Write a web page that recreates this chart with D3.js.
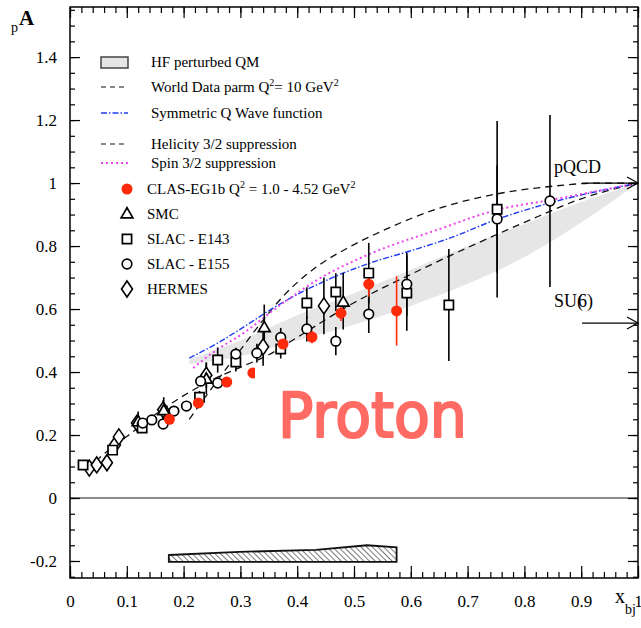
<!DOCTYPE html>
<html>
<head>
<meta charset="utf-8">
<script src="https://cdn.jsdelivr.net/npm/d3@7"></script>
<style>
  body { margin: 0; background: #fff; }
  text { font-family: "Liberation Serif", "Times New Roman", serif; }
</style>
</head>
<body>
<div id="chart"></div>
<script>
// chart size
var chart_width  = 641;
var chart_height = 628;

// data: [x, A1, error]
var clas_eg1b = [
    [0.175, 0.250, 0.010], [0.226, 0.302, 0.010], [0.276, 0.368, 0.010],
    [0.322, 0.397, 0.010], [0.375, 0.489, 0.015], [0.426, 0.511, 0.020],
    [0.477, 0.587, 0.025], [0.526, 0.679, 0.040], [0.575, 0.594, 0.110]
];
var smc = [
    [0.120, 0.245, 0.030], [0.165, 0.280, 0.040], [0.240, 0.380, 0.050],
    [0.342, 0.544, 0.070], [0.481, 0.625, 0.090]
];
var slac_e143 = [
    [0.023, 0.105, 0.010], [0.075, 0.152, 0.010], [0.127, 0.222, 0.015],
    [0.228, 0.320, 0.020], [0.260, 0.438, 0.040], [0.292, 0.432, 0.030],
    [0.371, 0.473, 0.030], [0.417, 0.619, 0.050], [0.468, 0.654, 0.060],
    [0.526, 0.714, 0.096], [0.593, 0.651, 0.120], [0.667, 0.613, 0.178],
    [0.752, 0.917, 0.280]
];
var slac_e155 = [
    [0.128, 0.238, 0.010], [0.144, 0.248, 0.010], [0.164, 0.235, 0.010],
    [0.183, 0.276, 0.010], [0.205, 0.292, 0.010], [0.230, 0.371, 0.015],
    [0.260, 0.365, 0.015], [0.292, 0.457, 0.020], [0.329, 0.460, 0.030],
    [0.371, 0.510, 0.030], [0.417, 0.537, 0.040], [0.468, 0.498, 0.045],
    [0.526, 0.584, 0.060], [0.593, 0.679, 0.100], [0.752, 0.886, 0.170],
    [0.845, 0.943, 0.273]
];
var hermes = [
    [0.034, 0.095, 0.010], [0.047, 0.105, 0.010], [0.065, 0.112, 0.010],
    [0.079, 0.168, 0.010], [0.086, 0.194, 0.015], [0.118, 0.238, 0.020],
    [0.164, 0.280, 0.030], [0.240, 0.390, 0.040], [0.340, 0.480, 0.060],
    [0.447, 0.610, 0.090]
];

// curves: [x, A1]
var world_data_parm = [
    [0.03, 0.09], [0.058, 0.137], [0.10, 0.195], [0.15, 0.265], [0.20, 0.325],
    [0.25, 0.375], [0.30, 0.415], [0.35, 0.455], [0.40, 0.51], [0.50, 0.62],
    [0.60, 0.71], [0.70, 0.795], [0.80, 0.875], [0.90, 0.95], [1.0, 1.0]
];
var helicity_32 = [
    [0.21, 0.25], [0.25, 0.35], [0.30, 0.47], [0.34, 0.565], [0.375, 0.64],
    [0.435, 0.735], [0.49, 0.795], [0.546, 0.845], [0.65, 0.92], [0.75, 0.965],
    [0.85, 0.99], [0.93, 1.0], [1.0, 1.0]
];
var symmetric_q = [
    [0.21, 0.444], [0.258, 0.49], [0.317, 0.556], [0.352, 0.597], [0.45, 0.69],
    [0.528, 0.746], [0.60, 0.785], [0.664, 0.822], [0.752, 0.885], [0.845, 0.937],
    [1.0, 1.0]
];
var spin_32 = [
    [0.217, 0.413], [0.258, 0.47], [0.30, 0.517], [0.375, 0.619], [0.435, 0.692],
    [0.528, 0.775], [0.646, 0.851], [0.752, 0.915], [0.845, 0.946], [1.0, 1.0]
];
var hf_band_x    = [0.21, 0.30, 0.40, 0.50, 0.60, 0.70, 0.80, 0.90, 1.0];
var hf_band_low  = [0.425, 0.45, 0.50, 0.55, 0.61, 0.68, 0.765, 0.875, 1.0];
var hf_band_high = [0.44, 0.50, 0.58, 0.65, 0.725, 0.80, 0.87, 0.94, 1.0];

// systematic band at the bottom
var syst_top = [
    [0.174, -0.181], [0.298, -0.171], [0.433, -0.165], [0.523, -0.150], [0.575, -0.157]
];
var syst_base = -0.203;

var x_ticks = [0, 0.1, 0.2, 0.3, 0.4, 0.5, 0.6, 0.7, 0.8, 0.9, 1];
var y_ticks = [-0.2, 0, 0.2, 0.4, 0.6, 0.8, 1, 1.2, 1.4];

var pqcd_value = 1.0;
var su6_value  = 5 / 9;

var x = d3.scaleLinear().domain([0, 1]).range([70, 638]);
var y = d3.scaleLinear().domain([-0.254, 1.559]).range([578, 7]);

var svg = d3.select('#chart')
    .append('svg')
    .attr('width', chart_width)
    .attr('height', chart_height);

var defs = svg.append('defs');
var hatch = defs.append('pattern')
    .attr('id', 'hatch')
    .attr('patternUnits', 'userSpaceOnUse')
    .attr('width', 4)
    .attr('height', 4)
    .attr('patternTransform', 'rotate(-45)');
hatch.append('line')
    .attr('x1', 0).attr('y1', 0).attr('x2', 0).attr('y2', 4)
    .attr('stroke', '#222').attr('stroke-width', 1.2);

function fmt(d) {
    return String(+d.toFixed(1));
}

// HF band
var band = d3.area()
    .x(function(d, i){ return x(hf_band_x[i]); })
    .y0(function(d, i){ return y(hf_band_low[i]); })
    .y1(function(d){ return y(d); })
    .curve(d3.curveMonotoneX);

svg.append('path')
    .datum(hf_band_high)
    .attr('d', band)
    .attr('fill', '#e6e6e6');

// zero line
svg.append('line')
    .attr('x1', x(0)).attr('x2', x(1))
    .attr('y1', y(0)).attr('y2', y(0))
    .attr('stroke', '#666').attr('stroke-width', 1.5);

// systematic band
var syst_pts = syst_top.map(function(d){ return [x(d[0]), y(d[1])]; });
syst_pts.push([x(syst_top[syst_top.length - 1][0]), y(syst_base)]);
syst_pts.push([x(syst_top[0][0]), y(syst_base)]);
svg.append('path')
    .attr('d', 'M' + syst_pts.join('L') + 'Z')
    .attr('fill', 'url(#hatch)')
    .attr('stroke', '#111')
    .attr('stroke-width', 1.8);

// curves
var line = d3.line()
    .x(function(d){ return x(d[0]); })
    .y(function(d){ return y(d[1]); })
    .curve(d3.curveMonotoneX);

var curves = [
    { data: world_data_parm, color: '#111', dash: '7,5', width: 1.3 },
    { data: helicity_32, color: '#111', dash: '7,5', width: 1.3 },
    { data: symmetric_q, color: '#1f3cf0', dash: '6,2,1.5,2', width: 1.4 },
    { data: spin_32, color: '#ee44ee', dash: '2,3', width: 2 }
];
curves.forEach(function(c){
    svg.append('path')
        .datum(c.data)
        .attr('d', line)
        .attr('fill', 'none')
        .attr('stroke', c.color)
        .attr('stroke-dasharray', c.dash)
        .attr('stroke-width', c.width);
});

// markers
var sym = {
    triangle: d3.symbol().type(d3.symbolTriangle).size(60),
    square: d3.symbol().type(d3.symbolSquare).size(85),
    circle: d3.symbol().type(d3.symbolCircle).size(72)
};

function draw_marker(g, kind, px, py) {
    if (kind === 'clas') {
        g.append('circle').attr('cx', px).attr('cy', py).attr('r', 5.5)
            .attr('fill', '#ff2a0a');
    } else if (kind === 'diamond') {
        g.append('path')
            .attr('d', 'M' + px + ',' + (py - 8) + 'L' + (px + 5.5) + ',' + py +
                'L' + px + ',' + (py + 8) + 'L' + (px - 5.5) + ',' + py + 'Z')
            .attr('fill', '#fff').attr('stroke', '#000').attr('stroke-width', 1.6);
    } else {
        var dy = kind === 'triangle' ? 1.5 : 0;
        g.append('path')
            .attr('d', sym[kind]())
            .attr('transform', 'translate(' + px + ',' + (py + dy) + ')')
            .attr('fill', '#fff').attr('stroke', '#000').attr('stroke-width', 1.7);
    }
}

var sets = [
    { data: hermes, kind: 'diamond', bar: '#000' },
    { data: smc, kind: 'triangle', bar: '#000' },
    { data: slac_e143, kind: 'square', bar: '#000' },
    { data: slac_e155, kind: 'circle', bar: '#000' },
    { data: clas_eg1b, kind: 'clas', bar: '#ff2a0a' }
];

var points = svg.append('g');
sets.forEach(function(s){
    s.data.forEach(function(d){
        points.append('line')
            .attr('x1', x(d[0])).attr('x2', x(d[0]))
            .attr('y1', y(d[1] - d[2])).attr('y2', y(d[1] + d[2]))
            .attr('stroke', s.bar).attr('stroke-width', 1.6);
    });
});
sets.forEach(function(s){
    s.data.forEach(function(d){
        draw_marker(points, s.kind, x(d[0]), y(d[1]));
    });
});

// Proton label (pasted with white background)
svg.append('rect')
    .attr('x', 255).attr('y', 368).attr('width', 215).attr('height', 78)
    .attr('fill', '#fff');
svg.append('text')
    .attr('x', 278).attr('y', 437)
    .attr('textLength', 189)
    .attr('lengthAdjust', 'spacingAndGlyphs')
    .style('font-family', '"Comic Sans MS", "DejaVu Sans", sans-serif')
    .style('font-size', '62px')
    .attr('fill', '#ff6b63')
    .attr('stroke', '#ff6b63')
    .attr('stroke-width', 2.2)
    .attr('stroke-linejoin', 'round')
    .text('Proton');

// pQCD and SU(6) arrows
function arrow(v) {
    var yy = y(v);
    svg.append('line')
        .attr('x1', 582).attr('x2', x(1)).attr('y1', yy).attr('y2', yy)
        .attr('stroke', '#000').attr('stroke-width', 1.2);
    svg.append('path')
        .attr('d', 'M' + (x(1) - 11) + ',' + (yy - 6) + 'L' + x(1) + ',' + yy +
            'L' + (x(1) - 11) + ',' + (yy + 6))
        .attr('fill', 'none').attr('stroke', '#000').attr('stroke-width', 1.2);
}
arrow(pqcd_value);
arrow(su6_value);

svg.append('text').attr('x', 554).attr('y', 173)
    .style('font-size', '18px').text('pQCD');
var su = svg.append('text').attr('x', 554).attr('y', 307)
    .style('font-size', '18px');
su.append('tspan').text('SU');
su.append('tspan').text('(');
su.append('tspan').attr('dx', -5).text('6');
su.append('tspan').text(')');

// axes
var ax = svg.append('g').attr('class', 'axes');

ax.append('g')
    .attr('transform', 'translate(0,578)')
    .call(d3.axisBottom(x).tickValues(d3.range(0, 1.001, 0.02)).tickSize(-6).tickFormat(''));
ax.append('g')
    .attr('transform', 'translate(0,578)')
    .call(d3.axisBottom(x).tickValues(x_ticks).tickSize(-12).tickPadding(17).tickFormat(fmt));
ax.append('g')
    .attr('transform', 'translate(0,7)')
    .call(d3.axisTop(x).tickValues(d3.range(0, 1.001, 0.02)).tickSize(-6).tickFormat(''));
ax.append('g')
    .attr('transform', 'translate(0,7)')
    .call(d3.axisTop(x).tickValues(x_ticks).tickSize(-11).tickFormat(''));

var y_minor = d3.range(-0.25, 1.56, 0.05);
ax.append('g')
    .attr('transform', 'translate(70,0)')
    .call(d3.axisLeft(y).tickValues(y_minor).tickSize(-5).tickFormat(''));
ax.append('g')
    .attr('transform', 'translate(70,0)')
    .call(d3.axisLeft(y).tickValues(y_ticks).tickSize(-10).tickPadding(13).tickFormat(fmt));
ax.append('g')
    .attr('transform', 'translate(638,0)')
    .call(d3.axisRight(y).tickValues(y_minor).tickSize(-5).tickFormat(''));
ax.append('g')
    .attr('transform', 'translate(638,0)')
    .call(d3.axisRight(y).tickValues(y_ticks).tickSize(-10).tickFormat(''));

ax.selectAll('.domain').remove();
ax.selectAll('line').attr('stroke', '#000').attr('stroke-width', 1.2);
ax.selectAll('text')
    .style('font-family', '"Liberation Serif", serif')
    .style('font-size', '17px')
    .attr('fill', '#000');

svg.append('rect')
    .attr('x', 70).attr('y', 7).attr('width', 568).attr('height', 571)
    .attr('fill', 'none').attr('stroke', '#000').attr('stroke-width', 1.5);

// axis titles
svg.append('text').attr('x', 11).attr('y', 32).style('font-size', '14px').text('p');
svg.append('text').attr('x', 19).attr('y', 25)
    .style('font-size', '21px').style('font-weight', 'bold').text('A');
svg.append('text').attr('x', 615).attr('y', 603).style('font-size', '20px').text('x');
svg.append('text').attr('x', 625).attr('y', 614).style('font-size', '14px').text('bj');

// legend
var legend = svg.append('g').style('font-size', '15px');
legend.append('rect')
    .attr('x', 101).attr('y', 57).attr('width', 27).attr('height', 11)
    .attr('fill', '#e6e6e6').attr('stroke', '#444').attr('stroke-width', 1.5);

var legend_lines = [
    { yy: 87, color: '#111', dash: '5,4', width: 1.2 },
    { yy: 113, color: '#1f3cf0', dash: '6,2,1.5,2', width: 1.4 },
    { yy: 144, color: '#111', dash: '5,4', width: 1.2 },
    { yy: 163, color: '#ee44ee', dash: '2,3', width: 2 }
];
legend_lines.forEach(function(l){
    legend.append('line')
        .attr('x1', 101).attr('x2', 128).attr('y1', l.yy).attr('y2', l.yy)
        .attr('stroke', l.color).attr('stroke-dasharray', l.dash)
        .attr('stroke-width', l.width);
});

function leg_text(tx, ty, parts) {
    var t = legend.append('text').attr('x', tx).attr('y', ty);
    var back = 0;
    parts.forEach(function(p){
        if (typeof p === 'string') {
            t.append('tspan').attr('dy', back).text(p);
            back = 0;
        } else {
            t.append('tspan').attr('dy', -6).style('font-size', '10px').text(p.sup);
            back = 6;
        }
    });
}
leg_text(151, 67, ['HF perturbed QM']);
leg_text(151, 92, ['World Data parm Q', { sup: '2' }, '= 10 GeV', { sup: '2' }]);
leg_text(151, 118, ['Symmetric Q Wave function']);
leg_text(151, 149, ['Helicity 3/2 suppression']);
leg_text(151, 168, ['Spin 3/2 suppression']);
leg_text(147, 194, ['CLAS-EG1b Q', { sup: '2' }, ' = 1.0 - 4.52 GeV', { sup: '2' }]);
leg_text(147, 219, ['SMC']);
leg_text(147, 244, ['SLAC - E143']);
leg_text(147, 269, ['SLAC - E155']);
leg_text(147, 294, ['HERMES']);

draw_marker(legend, 'clas', 127, 189);
draw_marker(legend, 'triangle', 127, 213);
draw_marker(legend, 'square', 127, 239);
draw_marker(legend, 'circle', 127, 264);
draw_marker(legend, 'diamond', 127, 289);
</script>
</body>
</html>
